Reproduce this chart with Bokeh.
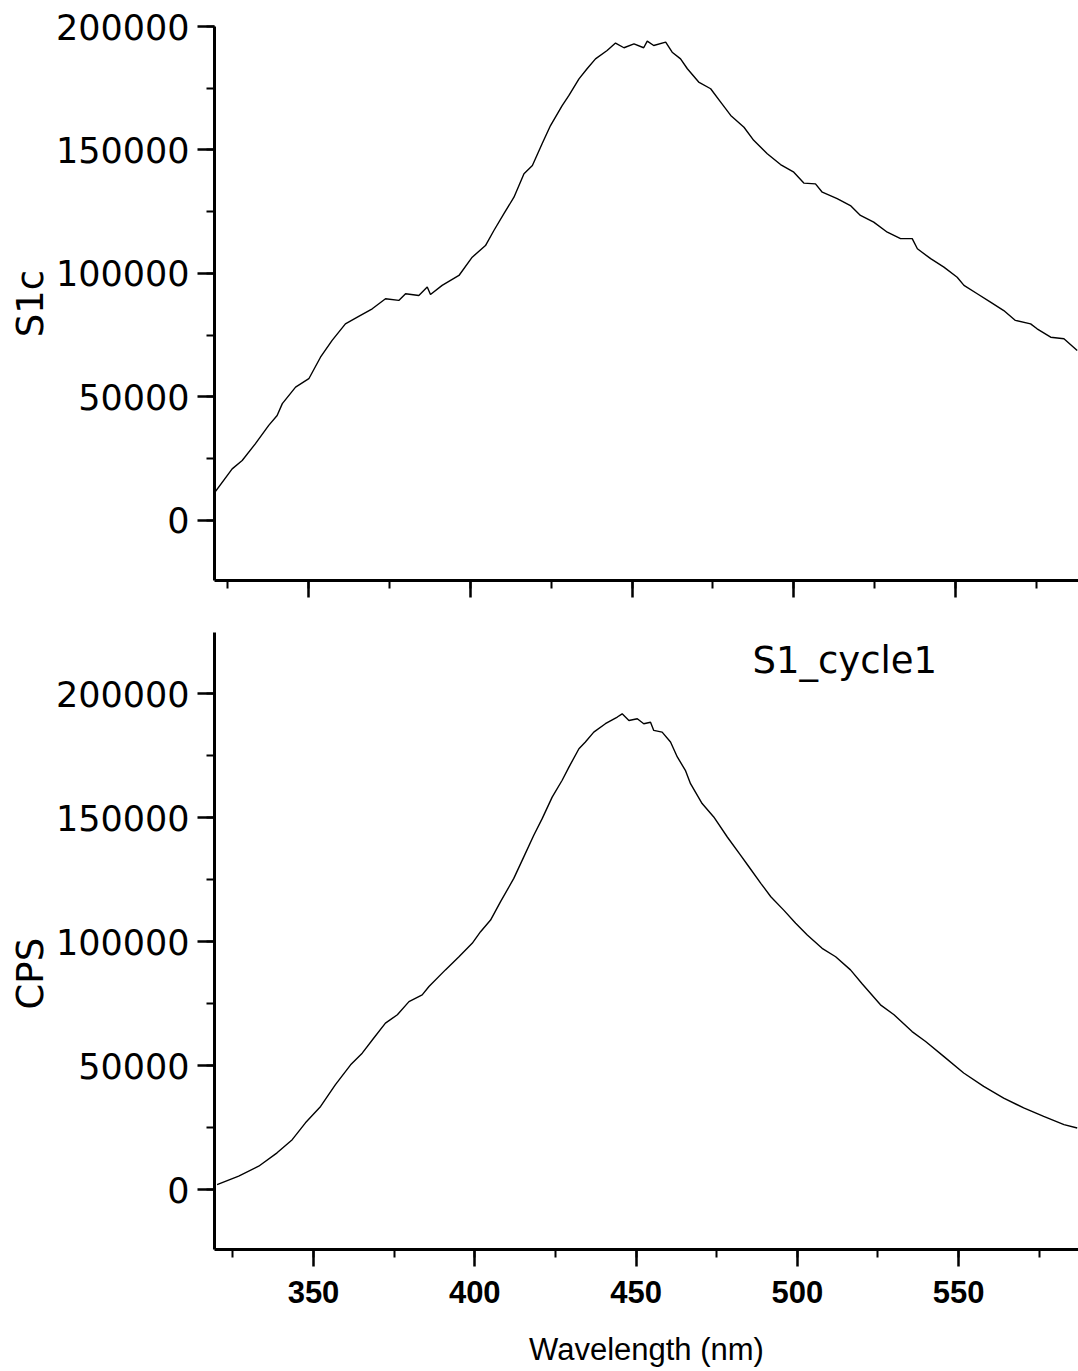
from bokeh.plotting import figure
from bokeh.layouts import column
from bokeh.models import SingleIntervalTicker, Label, BasicTickFormatter, CustomJSTickFormatter, Title
from bokeh.embed import file_html
from bokeh.resources import INLINE

# ---- data ----
wl_s1c = [320.7, 326.4, 329.5, 333.6, 337.7, 340.3, 341.9, 346.0, 350.1, 353.7,
          357.3, 361.4, 365.1, 369.7, 373.8, 377.9, 380.0, 384.1, 386.7, 387.7,
          391.3, 396.5, 400.6, 404.7, 407.3, 410.4, 413.5, 416.6, 419.2, 422.2,
          424.8, 428.4, 430.5, 433.6, 436.1, 438.7, 442.3, 444.9, 447.5, 450.6,
          453.6, 454.7, 456.7, 460.4, 462.4, 465.0, 467.1, 470.6, 474.3, 477.4,
          480.5, 484.6, 487.6, 491.8, 495.9, 500.0, 503.1, 506.7, 508.8, 513.4,
          517.5, 520.6, 524.7, 528.9, 533.0, 536.6, 538.2, 542.3, 546.4, 550.5,
          552.6, 556.7, 560.8, 564.9, 568.5, 573.2, 575.2, 579.4, 583.5, 587.6]
s1c = [10800, 20900, 24300, 31100, 38500, 42500, 47300, 54000, 57400, 66100,
       72900, 79600, 82300, 85700, 89800, 89100, 91800, 91100, 94500, 91500,
       95200, 99200, 106600, 111300, 117400, 124200, 130900, 140400, 143700, 152500,
       159900, 168000, 172100, 178800, 182900, 186900, 190300, 193300, 191400, 193000,
       191400, 194100, 192300, 193700, 189600, 186900, 182900, 177500, 174800, 169400,
       164000, 159200, 153900, 148500, 144100, 141000, 136600, 136300, 132900, 130300,
       127500, 123500, 120800, 116700, 114100, 114100, 110000, 106000, 102600, 98500,
       95200, 91800, 88400, 85000, 81000, 79600, 77600, 74200, 73600, 68800]

wl_cps = [320.1, 326.8, 333.0, 338.7, 343.4, 347.5, 352.2, 356.8, 361.5, 365.1,
          368.7, 372.3, 376.0, 379.6, 383.7, 385.8, 390.9, 395.1, 399.2, 401.8,
          404.9, 408.0, 412.1, 415.2, 418.3, 420.9, 424.0, 427.1, 429.2, 432.3,
          434.3, 436.9, 440.5, 444.2, 445.7, 447.8, 450.4, 452.4, 454.5, 455.5,
          458.1, 460.7, 462.8, 465.3, 466.9, 470.5, 474.1, 478.3, 482.4, 485.0,
          488.7, 491.8, 495.8, 499.5, 503.1, 507.7, 511.9, 516.5, 520.1, 525.8,
          530.0, 535.6, 539.8, 545.4, 551.6, 557.8, 564.0, 570.2, 576.4, 582.7,
          586.8]
cps = [2000, 5400, 9400, 14800, 20100, 26900, 33500, 42300, 50300, 55000,
       61100, 67100, 70500, 75800, 78500, 81900, 88600, 93900, 99300, 104000,
       108700, 116100, 125500, 134200, 142900, 149600, 158300, 165100, 170400, 177800,
       180500, 184500, 187900, 190600, 191900, 189200, 189900, 187900, 188500, 185200,
       184500, 180500, 174500, 169100, 163700, 155700, 150300, 142200, 134900, 130200,
       123500, 118100, 112700, 107400, 102700, 97300, 93900, 88600, 83000, 74500,
       70500, 63700, 59700, 53700, 47000, 41600, 36900, 32900, 29500, 26200,
       24800]

x_title = "Wavelength (nm)"
top_ytitle = "S1c"
bottom_ytitle = "CPS"
series_name = "S1_cycle1"

YFONT = "DejaVu Sans"


def style(p, show_xlabels):
    p.outline_line_color = None
    p.background_fill_color = "white"
    p.border_fill_color = "white"
    p.xgrid.visible = False
    p.ygrid.visible = False
    for ax in (p.xaxis[0], p.yaxis[0]):
        ax.axis_line_color = "black"
        ax.axis_line_width = 3
        ax.major_tick_line_color = "black"
        ax.major_tick_line_width = 2.5
        ax.minor_tick_line_color = "black"
        ax.minor_tick_line_width = 2
        ax.major_tick_in = 0
        ax.minor_tick_in = 0
        ax.major_tick_out = 17
        ax.minor_tick_out = 8
        ax.axis_label_text_font_style = "normal"
        ax.axis_label_text_color = "black"
        ax.major_label_text_color = "black"
    xa = p.xaxis[0]
    xa.ticker = SingleIntervalTicker(interval=50, num_minor_ticks=2)
    ya = p.yaxis[0]
    ya.ticker = SingleIntervalTicker(interval=50000, num_minor_ticks=2)
    ya.formatter = BasicTickFormatter(use_scientific=False)
    ya.major_label_text_font = YFONT
    ya.major_label_text_font_size = "35px"
    ya.major_label_standoff = 8
    if show_xlabels:
        xa.major_label_text_font = "Liberation Sans"
        xa.major_label_text_font_style = "bold"
        xa.major_label_text_font_size = "31px"
        xa.major_label_standoff = 14
        xa.axis_label_text_font = "Liberation Sans"
        xa.axis_label_text_font_size = "31px"
        xa.axis_label_standoff = 26
    else:
        xa.formatter = CustomJSTickFormatter(code="return ''")


def ytitle(text, align, offset):
    return Title(text=text, align=align, offset=offset, vertical_align="middle",
                 standoff=0, text_font=YFONT, text_font_size="37px",
                 text_font_style="normal", text_color="black")


top = figure(width=1078, height=610, x_range=(320.94, 588.0), y_range=(-24300, 200000),
             output_backend="svg", toolbar_location=None,
             min_border_left=214, min_border_right=0, min_border_top=26, min_border_bottom=30)
top.line(wl_s1c, s1c, line_color="black", line_width=1.4)
style(top, False)
top.add_layout(ytitle(top_ytitle, "center", 0), "left")

bot = figure(width=1078, height=759, x_range=(319.3, 587.2), y_range=(-24200, 224700),
             output_backend="svg", toolbar_location=None,
             min_border_left=214, min_border_right=0, min_border_top=22, min_border_bottom=119)
bot.line(wl_cps, cps, line_color="black", line_width=1.4)
bot.xaxis.axis_label = x_title
style(bot, True)
# the lower y title sits below the centre of its frame in the reference
bot.add_layout(ytitle(bottom_ytitle, "left", 240), "left")
bot.add_layout(Label(x=486.1, y=213400, text=series_name, text_baseline="middle",
                     text_font=YFONT, text_font_size="37px", text_color="black"))

layout = column(top, bot, spacing=0)
open("out.html", "w").write(file_html(layout, INLINE))
